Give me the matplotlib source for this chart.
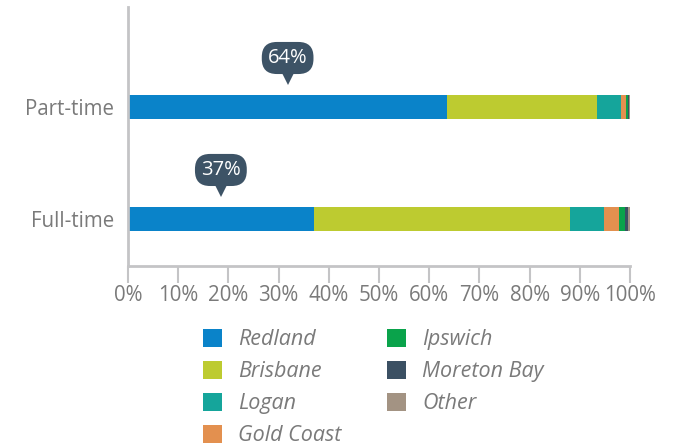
import matplotlib
matplotlib.use("Agg")
import matplotlib.pyplot as plt
import matplotlib.transforms as mtransforms
from matplotlib.patches import Patch

categories = ["Full-time", "Part-time"]
series = ["Redland", "Brisbane", "Logan", "Gold Coast", "Ipswich", "Moreton Bay", "Other"]
values = {
    "Redland":     [37.0, 63.6],
    "Brisbane":    [51.0, 29.8],
    "Logan":       [6.8, 4.8],
    "Gold Coast":  [3.1, 1.1],
    "Ipswich":     [1.1, 0.4],
    "Moreton Bay": [0.7, 0.2],
    "Other":       [0.3, 0.1],
}
callout_labels = ["37%", "64%"]
xtick_vals = [0, 10, 20, 30, 40, 50, 60, 70, 80, 90, 100]
xtick_labels = [f"{v}%" for v in xtick_vals]

colors = {
    "Redland": "#0a83c9",
    "Brisbane": "#bdcb30",
    "Logan": "#15a59b",
    "Gold Coast": "#e3904f",
    "Ipswich": "#0aa34b",
    "Moreton Bay": "#3b5063",
    "Other": "#a39383",
}

plt.rcParams['font.family'] = ['Open Sans', 'DejaVu Sans']
grey = "#7a7a7a"
spine_grey = "#c4c4c6"

fig = plt.figure(figsize=(6.75, 4.47), dpi=100)
ax = fig.add_axes([128/675, 1-266/447, (630-128)/675, (266-7)/447])

ypos = [0, 1]
left = [0, 0]
for s in series:
    ax.barh(ypos, values[s], left=left, height=0.214, color=colors[s], label=s)
    left = [l + v for l, v in zip(left, values[s])]

ax.set_xlim(0, 100)
ax.set_ylim(-0.42, 1.893)
ax.set_yticks(ypos)
ax.set_yticklabels(categories, fontsize=14.8, color=grey)
ax.set_xticks(xtick_vals)
ax.set_xticklabels(xtick_labels, fontsize=14.8, color=grey)
ax.tick_params(axis='y', length=0, pad=10)
ax.tick_params(axis='x', length=12, width=1.5, color=spine_grey, pad=2)
for side in ["top", "right"]:
    ax.spines[side].set_visible(False)
for side in ["left", "bottom"]:
    ax.spines[side].set_color(spine_grey)
    ax.spines[side].set_linewidth(2)

# callouts
box_color = "#3d5366"
for y, lab in zip(ypos, callout_labels):
    x = values["Redland"][y] / 2
    tr_box = mtransforms.offset_copy(ax.transData, fig=fig, x=0, y=49, units='dots')
    ax.text(x, y, lab, transform=tr_box, ha='center', va='center', fontsize=14.5,
            color='white',
            bbox=dict(boxstyle="round,pad=0.3,rounding_size=0.75", fc=box_color, ec='none'))
    tr_tri = mtransforms.offset_copy(ax.transData, fig=fig, x=0, y=29, units='dots')
    ax.plot([x], [y], marker='v', markersize=10, color=box_color, transform=tr_tri,
            clip_on=False, markeredgewidth=0)

handles = [Patch(facecolor=colors[s], edgecolor='none') for s in series]
leg = fig.legend(handles, series, ncol=2, loc='upper left',
                 bbox_to_anchor=(203/675, 1-329/447), frameon=False,
                 prop={'size': 15.5, 'style': 'italic'},
                 handlelength=0.88, handleheight=0.88, handletextpad=0.75,
                 columnspacing=2.13, labelspacing=0.5, borderpad=0, borderaxespad=0)
for t in leg.get_texts():
    t.set_color(grey)

fig.savefig("out.png", dpi=100)
